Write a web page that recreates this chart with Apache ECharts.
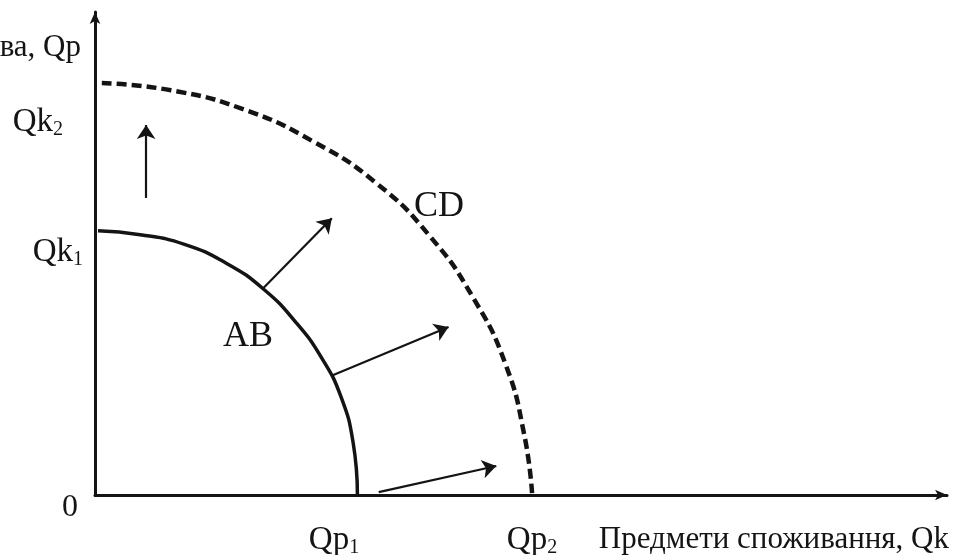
<!DOCTYPE html>
<html>
<head>
<meta charset="utf-8">
<script src="https://cdn.jsdelivr.net/npm/echarts@6/dist/echarts.min.js"></script>
<style>
  html, body { margin: 0; padding: 0; background: #fff; }
  #chart { width: 960px; height: 555px; }
</style>
</head>
<body>
<div id="chart"></div>
<script>
  // крива AB (початкові можливості) — точки
  var abX = [0.35, 5.3, 10.5, 15.4, 19.8, 23.6, 26.6, 28.9, 30.3, 30.8];
  var abY = [54.7, 53.9, 51.9, 48.0, 42.6, 35.7, 28.4, 20.2, 10.8, 0];
  // крива CD (після зростання)
  var cdX = [0.8, 8.9, 17.5, 25.6, 33.0, 39.3, 44.4, 48.2, 50.4, 51.3];
  var cdY = [85.3, 83.8, 79.8, 73.2, 64.6, 53.6, 40.8, 27.0, 12.3, 0.4];
  // стрілки зсуву: [x0, y0, x1, y1]
  var shifts = [
    [6.0, 61.5, 6.0, 76.6],
    [19.8, 42.9, 27.8, 57.3],
    [27.9, 24.8, 41.5, 34.8],
    [33.3, 0.6, 47.1, 6.0]
  ];

  var ink = '#141414';
  var font = '"Liberation Serif", "DejaVu Serif", serif';

  function pairs(xs, ys) {
    var out = [];
    for (var i = 0; i < xs.length; i++) out.push([xs[i], ys[i]]);
    return out;
  }

  var chart = echarts.init(document.getElementById('chart'));

  function txt(str, x, y, align, size) {
    return {
      type: 'text',
      x: x, y: y,
      style: {
        text: str,
        fill: ink,
        font: size + 'px ' + font,
        align: align,
        verticalAlign: 'middle',
        rich: {
          s: { fontSize: Math.round(size * 0.62), fontFamily: font, fill: ink, padding: [Math.round(size * 0.45), 0, 0, 0] }
        }
      }
    };
  }

  var option = {
    backgroundColor: '#fff',
    animation: false,
    grid: { left: 95, right: 13, top: 12, bottom: 60 },
    xAxis: {
      type: 'value', min: 0, max: 100,
      axisLine: { lineStyle: { color: ink, width: 3 }, symbol: ['none', 'arrow'], symbolSize: [8, 12] },
      axisTick: { show: false }, axisLabel: { show: false }, splitLine: { show: false }
    },
    yAxis: {
      type: 'value', min: 0, max: 100,
      axisLine: { lineStyle: { color: ink, width: 3 }, symbol: ['none', 'arrow'], symbolSize: [8, 12] },
      axisTick: { show: false }, axisLabel: { show: false }, splitLine: { show: false }
    },
    series: [
      {
        name: 'AB', type: 'line', smooth: 0.5, showSymbol: false,
        data: pairs(abX, abY),
        lineStyle: { color: ink, width: 3.5 }
      },
      {
        name: 'CD', type: 'line', smooth: 0.5, showSymbol: false,
        data: pairs(cdX, cdY),
        lineStyle: { color: ink, width: 4.5, type: [10, 5] }
      },
      {
        name: 'shift', type: 'lines', coordinateSystem: 'cartesian2d',
        symbol: ['none', 'arrow'], symbolSize: 14,
        lineStyle: { color: ink, width: 2.2, opacity: 1 },
        data: shifts.map(function (s) { return { coords: [[s[0], s[1]], [s[2], s[3]]] }; })
      }
    ],
    graphic: [
      txt('Засоби виробництва, Qp', 81, 48, 'right', 31),
      txt('Qk{s|2}', 63, 122, 'right', 33),
      txt('Qk{s|1}', 83, 252, 'right', 33),
      txt('0', 70, 508, 'center', 32),
      txt('Qp{s|1}', 334, 540, 'center', 33),
      txt('Qp{s|2}', 532, 540, 'center', 33),
      txt('Предмети споживання, Qk', 949, 540, 'right', 31),
      txt('AB', 248, 337, 'center', 36),
      txt('CD', 439, 207, 'center', 36)
    ]
  };

  chart.setOption(option);
  window.addEventListener('resize', function () {
    chart.resize();
  });
</script>
</body>
</html>
